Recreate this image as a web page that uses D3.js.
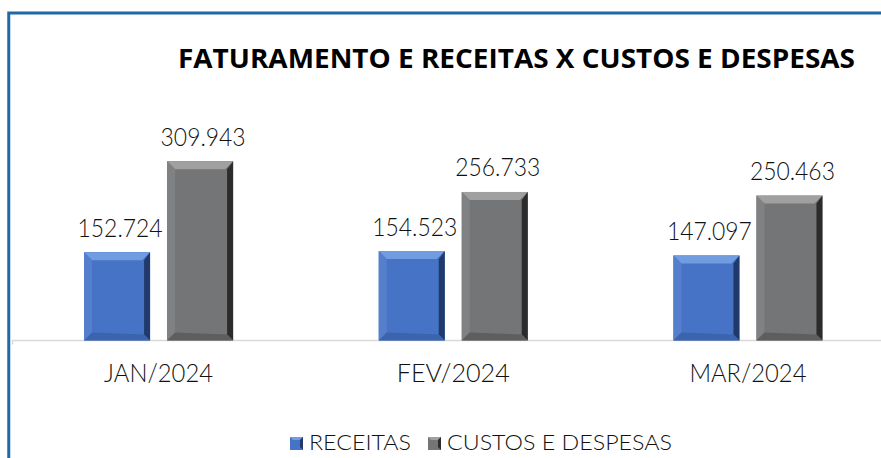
<!DOCTYPE html>
<html><head><meta charset="utf-8">
<script src="https://cdn.jsdelivr.net/npm/d3@7"></script>
<style>body{margin:0;background:#fff}svg{display:block}</style>
</head><body>
<svg id="c" width="881" height="458"></svg>
<script>
const categories = ["JAN/2024", "FEV/2024", "MAR/2024"];
const seriesNames = ["RECEITAS", "CUSTOS E DESPESAS"];
const receitas = [152.724, 154.523, 147.097];
const custos = [309.943, 256.733, 250.463];
const title = "FATURAMENTO E RECEITAS X CUSTOS E DESPESAS";

const fmt = v => d3.format(".3f")(v);
const svg = d3.select("#c");
const W = 881, H = 458;
const font = "Lato, 'Open Sans', sans-serif";
const tfont = "'Open Sans', 'Noto Sans', sans-serif";

// frame
svg.append("rect").attr("x", 8.75).attr("y", 13).attr("width", 900).attr("height", 500)
  .attr("fill", "#fff").attr("stroke", "#1f69a6").attr("stroke-width", 3);

svg.append("text").attr("x", 178).attr("y", 68).text(title)
  .attr("font-family", tfont).attr("font-weight", 700).attr("font-size", 26)
  .attr("textLength", 677).attr("lengthAdjust", "spacingAndGlyphs").attr("fill", "#000");

const x0 = d3.scaleBand().domain(categories).range([11.25, 895.25]).paddingInner(0).paddingOuter(0);
const x1 = d3.scaleBand().domain(seriesNames).range([0, x0.bandwidth()]).paddingInner(0.205).paddingOuter(0.877);
const y = d3.scaleLinear().domain([0, 350]).range([340.5, 138]);

const colors = {
  "RECEITAS": {main: "#4673c6", top: "#729ce0", left: "#557fcc", right: "#1f3a6b", bottom: "#3b64ad"},
  "CUSTOS E DESPESAS": {main: "#747576", top: "#a0a0a1", left: "#808182", right: "#2c2c2d", bottom: "#5e5e5f"}
};

const data = categories.map((c, i) => ({cat: c, vals: [
  {s: seriesNames[0], v: receitas[i]}, {s: seriesNames[1], v: custos[i]}]}));

// axis line
const axis = svg.append("g").attr("transform", `translate(0,${y(0)})`)
  .call(d3.axisBottom(x0).tickSize(0).tickPadding(22));
axis.select(".domain").attr("stroke", "#d9d9d9").attr("stroke-width", 1.5)
  .attr("d", `M12.5,4V0H${W+20}`);
axis.selectAll("text").attr("font-family", font).attr("font-weight", 300).attr("font-size", 25).attr("fill", "#111")
  .attr("dy", null).attr("y", 41)
  .attr("textLength", (d, i) => [109, 113, 117][i]).attr("lengthAdjust", "spacingAndGlyphs");

const b = 8;
const groups = svg.selectAll("g.grp").data(data).join("g").attr("class", "grp")
  .attr("transform", d => `translate(${x0(d.cat)},0)`);
const bars = groups.selectAll("g.bar").data(d => d.vals).join("g").attr("class", "bar");
bars.each(function(d) {
  const g = d3.select(this);
  const x = x1(d.s), w = x1.bandwidth(), t = y(d.v), btm = y(0), c = colors[d.s];
  g.append("rect").attr("x", x).attr("y", t).attr("width", w).attr("height", btm - t).attr("fill", c.main);
  const poly = pts => g.append("polygon").attr("points", pts.map(p => p.join(",")).join(" "));
  poly([[x, t], [x + w, t], [x + w - b, t + b], [x + b, t + b]]).attr("fill", c.top);
  poly([[x, t], [x + b, t + b], [x + b, btm - b], [x, btm]]).attr("fill", c.left);
  poly([[x + w, t], [x + w, btm], [x + w - 6, btm - 6], [x + w - 6, t + b]]).attr("fill", c.right);
  poly([[x, btm], [x + b, btm - b], [x + w - 6, btm - 6], [x + w, btm]]).attr("fill", c.bottom);
  g.append("text").attr("x", x + w / 2 + 3).attr("y", t - 15.5).attr("text-anchor", "middle")
    .attr("font-family", font).attr("font-weight", 300).attr("font-size", 25).attr("fill", "#111")
    .attr("textLength", 85).attr("lengthAdjust", "spacingAndGlyphs").text(fmt(d.v));
});

// legend
const legend = svg.append("g");
const lx = [290, 428], tl = [102, 225];
seriesNames.forEach((s, i) => {
  const c = colors[s], X = lx[i], Y = 437, S = 13, bb = 3;
  legend.append("rect").attr("x", X).attr("y", Y).attr("width", S).attr("height", S).attr("fill", c.main);
  legend.append("polygon").attr("points", `${X},${Y} ${X+S},${Y} ${X+S-bb},${Y+bb} ${X+bb},${Y+bb}`).attr("fill", c.top);
  legend.append("polygon").attr("points", `${X+S},${Y} ${X+S},${Y+S} ${X+S-bb},${Y+S-bb} ${X+S-bb},${Y+bb}`).attr("fill", c.right);
  legend.append("text").attr("x", X + 19).attr("y", 450).text(s)
    .attr("font-family", font).attr("font-weight", 300).attr("font-size", 21).attr("fill", "#111")
    .attr("textLength", tl[i]).attr("lengthAdjust", "spacingAndGlyphs");
});
</script>
</body></html>
